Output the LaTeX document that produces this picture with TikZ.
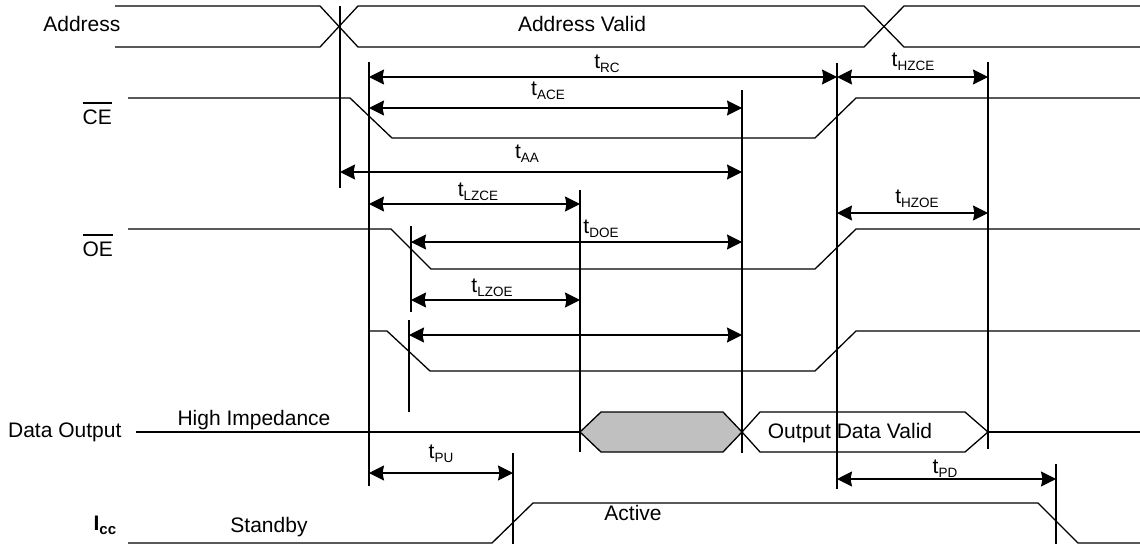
\documentclass[tikz,border=0pt]{standalone}
\usepackage{fontspec}
\setmainfont{Liberation Sans}
\usetikzlibrary{arrows.meta}
\definecolor{shade}{HTML}{C0C0C0}
\newcommand\tsub[1]{t\raisebox{-4.5pt}{\fontsize{13.5}{14}\selectfont #1}}
\newcommand\ovbar[1]{\setbox0\hbox{#1}\rlap{\rule[20.5pt]{\wd0}{1.1pt}}\box0}
\begin{document}
\begin{tikzpicture}[x=1pt,y=-1pt,line width=1.25pt,line join=miter,
  every node/.style={font=\fontsize{21}{25}\selectfont,inner sep=0pt},
  wave/.style={line width=1.3pt},
  guide/.style={line width=1.2pt},
  dim/.style={line width=1.2pt,{Stealth[length=15pt,width=15pt,inset=1.5pt]}-{Stealth[length=15pt,width=15pt,inset=1.5pt]}},
  lbl/.style={anchor=base}]
\useasboundingbox (0,0) rectangle (1140,544);
% signal names
\node[anchor=base east] (nAddr) at (121,31) {Address};
\node[anchor=base west] (nCE) at (82,124) {\ovbar{CE}};
\node[anchor=base west] (nOE) at (82,256) {\ovbar{OE}};
\node[anchor=base east] (nData) at (122,437) {Data Output};
\node[anchor=base west] (nIcc) at (93,530) {\bfseries I\raisebox{-4pt}{\fontsize{15}{15}\selectfont\bfseries cc}};
% address
\draw[wave] (115,6) -- (320,6) -- (358,47) -- (864,47) -- (904,6) -- (1140,6);
\draw[wave] (115,47) -- (320,47) -- (358,6) -- (864,6) -- (904,47) -- (1140,47);
\node[lbl] (tAV) at (582,31) {Address Valid};
% CE
\draw[wave] (128,98) -- (350,98) -- (392,138) -- (815,138) -- (856,98) -- (1140,98);
% OE
\draw[wave] (128,229) -- (391,229) -- (431,269) -- (815,269) -- (856,229) -- (1140,229);
% third
\draw[wave] (369,331) -- (387,331) -- (430,371) -- (815,371) -- (856,331) -- (1140,331);
% data output
\draw[wave] (136,432) -- (580,432);
\draw[wave,fill=shade] (580,432) -- (601,412) -- (723,412) -- (742,432) -- (723,452) -- (601,452) -- cycle;
\draw[wave] (742,432) -- (760,412) -- (965,412) -- (988,432) -- (965,452) -- (760,452) -- cycle;
\draw[wave] (988,432) -- (1140,432);
\node[lbl] (tHI) at (254,425) {High Impedance};
\node[lbl] (tODV) at (850,438) {Output Data Valid};
% Icc
\draw[wave] (128,543) -- (492,543) -- (533,503) -- (1038,503) -- (1078,543) -- (1140,543);
\node[lbl] (tSB) at (269,532) {Standby};
\node[lbl] (tAC) at (633,520) {Active};
% guide lines
\draw[guide] (340,6) -- (340,188);
\draw[guide] (369,62) -- (369,486);
\draw[guide] (837,63) -- (837,489);
\draw[guide] (988,62) -- (988,449);
\draw[guide] (742,90) -- (742,453);
\draw[guide] (580,190) -- (580,452);
\draw[guide] (411,226) -- (411,312);
\draw[guide] (409,320) -- (409,412);
\draw[guide] (513,453) -- (513,544);
\draw[guide] (1056,464) -- (1056,544);
% dimension arrows
\draw[dim] (369,77) -- (837,77);
\draw[dim] (837,77) -- (988,77);
\draw[dim] (369,108) -- (742,108);
\draw[dim] (340,172) -- (742,172);
\draw[dim] (369,204) -- (580,204);
\draw[dim] (837,213) -- (988,213);
\draw[dim] (411,242) -- (742,242);
\draw[dim] (411,300) -- (580,300);
\draw[dim] (409,335) -- (742,335);
\draw[dim] (369,473) -- (513,473);
\draw[dim] (837,479) -- (1056,479);
% timing labels
\node[lbl] (lRC) at (607,68) {\tsub{RC}};
\node[lbl] (lHZCE) at (913,66) {\tsub{HZCE}};
\node[lbl] (lACE) at (548,95) {\tsub{ACE}};
\node[lbl] (lAA) at (527,158) {\tsub{AA}};
\node[lbl] (lLZCE) at (478,196) {\tsub{LZCE}};
\node[lbl] (lHZOE) at (917,203) {\tsub{HZOE}};
\node[lbl] (lDOE) at (601,233) {\tsub{DOE}};
\node[lbl] (lLZOE) at (492,292) {\tsub{LZOE}};
\node[lbl] (lPU) at (441,458) {\tsub{PU}};
\node[lbl] (lPD) at (945,473) {\tsub{PD}};
\end{tikzpicture}
\end{document}
